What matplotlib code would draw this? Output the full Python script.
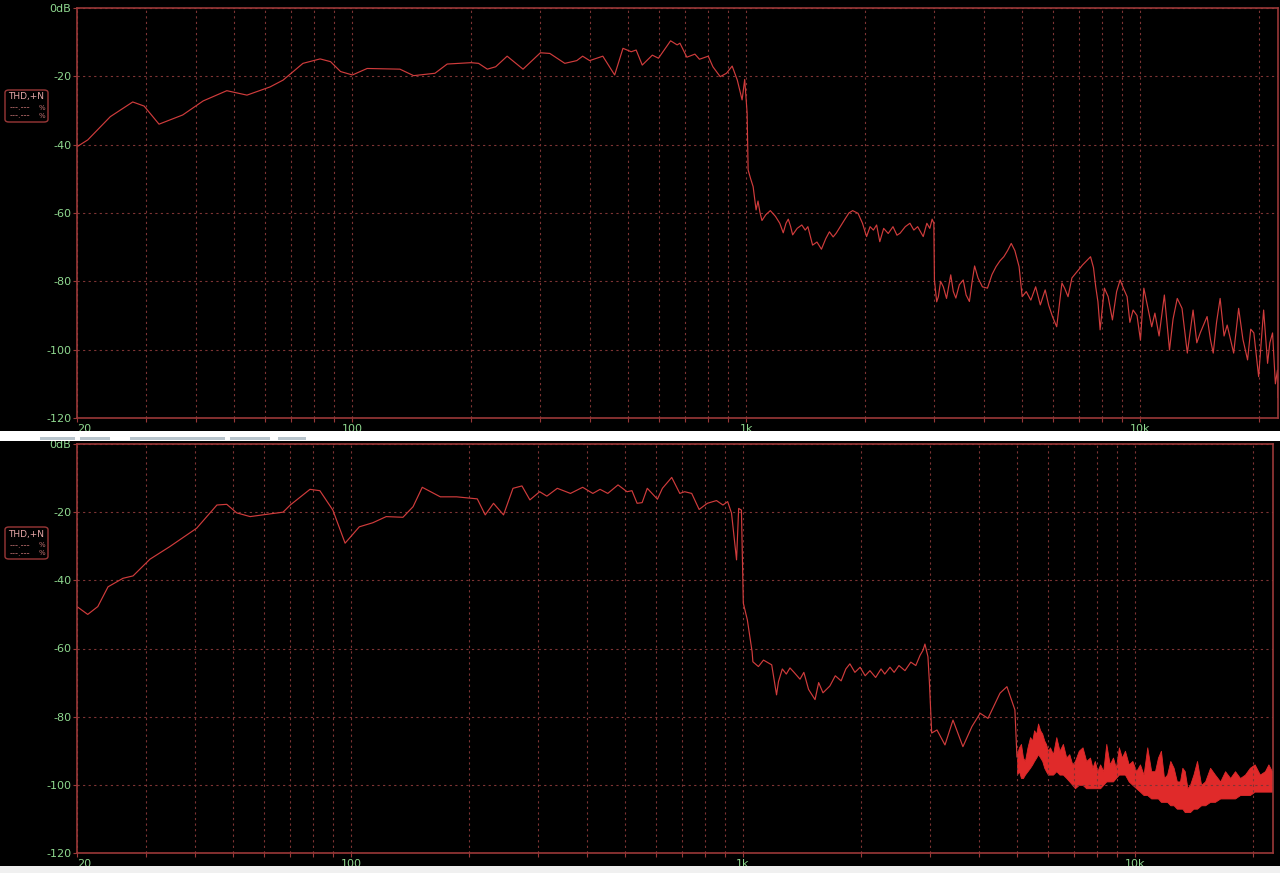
import matplotlib
matplotlib.use("Agg")
import matplotlib.pyplot as plt
from matplotlib.patches import FancyBboxPatch, Rectangle
from matplotlib.ticker import NullLocator

top_freq = [20, 21.3, 24.3, 27.7, 29.6, 32.3, 37.1, 41.8, 48, 54, 61.8, 66.7, 74.9, 82.8, 88, 93.3,
            100, 109, 132, 143, 162, 174, 200, 209, 220, 231, 247, 271, 300, 317, 346, 371, 384,
            400, 432, 463, 486, 510, 525, 544, 577, 598, 642, 667, 678, 706, 740, 760, 800, 822,
            858, 890, 920, 948, 975, 990, 1004, 1010, 1025, 1040, 1058, 1070, 1083, 1095, 1120,
            1150, 1185, 1215, 1240, 1260, 1277, 1295, 1310, 1345, 1382, 1410, 1432, 1450, 1472,
            1510, 1550, 1590, 1624, 1660, 1690, 1730, 1774, 1820, 1860, 1920, 1970, 2018, 2060,
            2100, 2140, 2180, 2230, 2290, 2355, 2410, 2455, 2530, 2600, 2660, 2720, 2810, 2870,
            2920, 2960, 2990, 3000, 3040, 3070, 3110, 3160, 3220, 3300, 3350, 3400, 3470, 3550,
            3610, 3680, 3740, 3794, 3870, 3970, 4090, 4200, 4300, 4400, 4500, 4600, 4700, 4800,
            4920, 5010, 5130, 5270, 5420, 5570, 5730, 5850, 5980, 6130, 6320, 6420, 6550, 6700,
            6960, 7130, 7300, 7470, 7600, 7700, 7800, 7900, 8100, 8280, 8490, 8700, 8880, 9050,
            9250, 9400, 9580, 9800, 10000, 10200, 10450, 10680, 10880, 11150, 11500, 11850, 12100,
            12400, 12750, 13150, 13600, 13900, 14180, 14760, 15050, 15300, 15600, 15930, 16300,
            16600, 17240, 17750, 18200, 18700, 19050, 19400, 19950, 20540, 21020, 21300, 21640,
            22000, 22270, 22340]
top_db = [-40.6, -38.6, -31.8, -27.5, -28.7, -34.0, -31.3, -27.2, -24.2, -25.5, -23.1, -21.1, -16.2,
          -14.9, -15.7, -18.6, -19.6, -17.7, -17.9, -19.8, -19.1, -16.4, -16.0, -16.2, -17.9, -17.2,
          -14.1, -17.9, -13.1, -13.3, -16.2, -15.4, -14.1, -15.4, -14.1, -19.6, -11.8, -12.8, -12.3,
          -16.7, -13.8, -14.7, -9.6, -10.8, -10.3, -14.4, -13.5, -15.0, -14.1, -17.2, -20.1, -19.1,
          -17.0, -21.1, -26.9, -20.9, -30.7, -47.4, -50.0, -52.3, -59.1, -56.5, -60.0, -62.2, -60.5,
          -59.3, -61.0, -63.0, -65.8, -63.0, -61.8, -64.0, -66.4, -64.5, -63.5, -65.0, -64.0, -66.5,
          -69.4, -68.5, -70.6, -67.5, -65.5, -67.0, -65.9, -64.0, -62.0, -60.0, -59.3, -60.1, -63.0,
          -66.9, -64.0, -65.0, -63.5, -68.4, -64.5, -66.0, -64.0, -66.5, -65.9, -64.0, -63.0, -65.0,
          -64.0, -66.9, -63.0, -64.5, -61.8, -63.0, -79.6, -86.0, -84.5, -80.0, -81.6, -85.0, -78.1,
          -83.0, -84.9, -81.0, -79.6, -84.0, -85.9, -80.0, -75.5, -79.0, -81.6, -82.0, -78.0, -75.7,
          -74.0, -72.8, -71.0, -68.9, -71.0, -75.7, -84.5, -83.0, -85.5, -81.6, -86.9, -82.5, -87.0,
          -90.3, -93.3, -80.5, -82.0, -84.5, -79.0, -76.7, -75.2, -74.0, -72.8, -76.0, -81.6, -86.0,
          -94.2, -82.0, -84.5, -91.3, -83.0, -79.6, -82.0, -84.5, -92.0, -88.4, -90.0, -97.2, -82.0,
          -88.0, -93.3, -89.3, -96.0, -84.0, -100.1, -91.0, -85.0, -87.9, -101.0, -88.4, -98.0,
          -95.1, -90.3, -97.0, -101.0, -92.0, -85.0, -96.0, -92.8, -101.0, -87.9, -97.0, -103.0,
          -94.0, -95.1, -107.9, -88.4, -104.0, -98.0, -95.1, -110.0, -106.0, -114.0]

bot_freq = [20, 21.3, 22.6, 24, 26.2, 27.8, 30.7, 34.5, 40.4, 45.5, 48.2, 51.1, 55.3, 62.2, 67.1, 70,
            78.6, 83.3, 89.9, 96.6, 105, 113.7, 123, 135.7, 144, 152, 169, 186, 210, 220, 231, 245,
            259, 273, 286, 303, 316, 336, 363, 390, 414, 432, 452, 480, 506, 521, 537, 553, 570, 605,
            623, 658, 690, 710, 740, 773, 811, 856, 889, 914, 935, 963, 975, 991, 1002, 1026, 1055,
            1060, 1095, 1128, 1184, 1218, 1232, 1260, 1290, 1318, 1350, 1398, 1430, 1470, 1527, 1560,
            1600, 1666, 1720, 1780, 1830, 1874, 1930, 1990, 2050, 2108, 2180, 2250, 2300, 2372, 2430,
            2500, 2590, 2680, 2760, 2830, 2880, 2912, 2964, 2990, 3030, 3126, 3276, 3434, 3640, 3838,
            4028, 4218, 4526, 4714, 4940, 5000]
bot_db = [-47.7, -50.0, -47.7, -41.9, -39.4, -38.7, -33.8, -30.1, -24.7, -17.9, -17.7, -20.2, -21.3,
          -20.5, -20.0, -17.9, -13.3, -13.7, -19.4, -29.1, -24.3, -23.1, -21.3, -21.5, -18.4, -12.7,
          -15.5, -15.5, -16.1, -20.8, -17.4, -20.8, -13.0, -12.3, -16.4, -14.0, -15.3, -13.0, -14.5,
          -12.7, -14.5, -13.3, -14.5, -12.0, -14.0, -13.7, -17.4, -17.2, -13.0, -16.2, -13.0, -9.8,
          -14.5, -14.0, -14.5, -19.2, -17.4, -16.6, -17.9, -16.9, -20.3, -34.0, -18.9, -19.4, -46.7,
          -51.6, -60.9, -63.9, -65.3, -63.4, -64.8, -73.6, -69.7, -66.0, -67.5, -65.7, -67.0, -69.0,
          -67.0, -72.0, -75.0, -70.0, -73.0, -71.0, -68.0, -69.5, -66.0, -64.5, -67.0, -65.5, -68.0,
          -66.5, -68.5, -66.0, -67.5, -65.5, -67.0, -65.0, -66.5, -64.0, -65.0, -62.0, -60.5, -58.7,
          -62.4, -70.0, -84.8, -83.9, -88.3, -81.0, -88.8, -82.9, -79.0, -80.5, -73.1, -71.2, -78.0,
          -91.8]

# noise band above 5 kHz (upper / lower edge of the thick trace)
band_freq = [5000, 5060, 5120, 5180, 5240, 5320, 5400, 5470, 5530, 5600,
             5660, 5730, 5800, 5870, 5930, 6000, 6070, 6180, 6300, 6420,
             6550, 6680, 6800, 6920, 7030, 7190, 7350, 7510, 7680, 7790,
             7900, 8020, 8150, 8300, 8450, 8620, 8790, 8940, 9100, 9260,
             9430, 9640, 9850, 10070, 10300, 10520, 10750, 11000, 11250, 11450,
             11650, 11860, 12080, 12310, 12550, 12790, 13030, 13210, 13400, 13610,
             13820, 14100, 14400, 14750, 15100, 15550, 16000, 16500, 16980, 17500,
             18000, 18540, 19080, 19640, 20200, 20830, 21460, 21900, 22360]
band_hi = [-91, -89, -88, -92, -93, -89, -86, -87, -84, -85,
           -82, -84, -85, -87, -88, -90, -89, -91, -86, -90,
           -88, -92, -91, -94, -93, -90, -89, -93, -92, -95,
           -93, -96, -94, -96, -88, -94, -92, -95, -89, -92,
           -90, -94, -93, -96, -94, -97, -89, -96, -96, -92,
           -90, -98, -97, -93, -95, -99, -99, -95, -96, -101,
           -100, -97, -93, -100, -99, -95, -97, -99, -96, -98,
           -96, -98, -97, -95, -94, -97, -96, -94, -96]
band_lo = [-97, -96, -98, -98, -97, -96, -95, -94, -93, -92,
           -91, -92, -93, -95, -96, -97, -97, -97, -96, -97,
           -97, -98, -99, -100, -101, -100, -100, -101, -101, -101,
           -101, -101, -101, -100, -99, -99, -99, -98, -97, -97,
           -97, -99, -100, -101, -102, -103, -103, -104, -104, -104,
           -105, -105, -105, -106, -106, -107, -107, -107, -108, -108,
           -108, -107, -107, -106, -106, -105, -105, -104, -104, -104,
           -104, -103, -103, -103, -102, -102, -102, -102, -102]

grid_freqs = [30, 40, 50, 60, 70, 80, 90, 200, 300, 400, 500, 600, 700, 800, 900,
              2000, 3000, 4000, 5000, 6000, 7000, 8000, 9000, 20000]
label_freqs = [20, 100, 1000, 10000]
label_names = ["20", "100", "1k", "10k"]
db_ticks = [0, -20, -40, -60, -80, -100, -120]
db_names = ["0dB", "-20", "-40", "-60", "-80", "-100", "-120"]

frame_col = "#9a3838"
grid_col = "#7e3434"
text_col = "#8fd88f"
line_col = "#d03c3c"

fig = plt.figure(figsize=(12.8, 8.73), dpi=100, facecolor="black")


def setup(ax, xmax):
    ax.set_facecolor("black")
    ax.set_xscale("log")
    ax.set_xlim(20, xmax)
    ax.set_ylim(-120, 0)
    xt = label_freqs + grid_freqs
    ax.set_xticks(xt, label_names + [""] * len(grid_freqs))
    ax.xaxis.set_minor_locator(NullLocator())
    ax.set_yticks(db_ticks, db_names)
    ax.tick_params(colors=frame_col, labelcolor=text_col, labelsize=8, length=3, width=0.8, pad=1)
    ax.xaxis.get_ticklabels()[0].set_horizontalalignment("left")
    for s in ax.spines.values():
        s.set_color(frame_col)
        s.set_linewidth(1.2)
    ax.grid(True, color=grid_col, linestyle=(0, (2, 3)), linewidth=0.8)


ax1 = fig.add_axes([77 / 1280, 1 - 418 / 873, 1201 / 1280, 410 / 873])
setup(ax1, 22340)
ax1.plot(top_freq, top_db, color=line_col, lw=0.85)

ax2 = fig.add_axes([77 / 1280, 1 - 853 / 873, 1196 / 1280, 409 / 873])
setup(ax2, 22500)
ax2.plot(bot_freq, bot_db, color=line_col, lw=0.85)
ax2.fill_between(band_freq, band_lo, band_hi, color="#e02a2a", lw=0.6, edgecolor="#e02a2a")

# legend boxes on the left
for ytop in [90, 527]:
    box = FancyBboxPatch((5 / 1280, 1 - (ytop + 32) / 873), 43 / 1280, 32 / 873,
                         boxstyle="round,pad=0,rounding_size=0.003", transform=fig.transFigure,
                         facecolor="black", edgecolor=frame_col, lw=1)
    fig.patches.append(box)
    fig.text(26 / 1280, 1 - (ytop + 7) / 873, "THD,+N", color="#e8a8a8", fontsize=6.5,
             ha="center", va="center")
    for dy in [18, 26]:
        fig.text(10 / 1280, 1 - (ytop + dy) / 873, "---.---", color="#c07070", fontsize=6,
                 ha="left", va="center")
        fig.text(45 / 1280, 1 - (ytop + dy) / 873, "%", color="#c07070", fontsize=5,
                 ha="right", va="center")

# white tool strips
fig.patches.append(Rectangle((0, 1 - 441 / 873), 1, 10 / 873, transform=fig.transFigure,
                             facecolor="white", edgecolor="none"))
for x0, w in [(40, 35), (80, 30), (130, 95), (230, 40), (278, 28)]:
    fig.patches.append(Rectangle((x0 / 1280, 1 - 440 / 873), w / 1280, 3 / 873,
                                 transform=fig.transFigure, facecolor="#b8c4cc", edgecolor="none"))
fig.patches.append(Rectangle((0, 0), 1, 7 / 873, transform=fig.transFigure,
                             facecolor="#f0f0f0", edgecolor="none"))

fig.savefig("out.png", dpi=100, facecolor="black")
